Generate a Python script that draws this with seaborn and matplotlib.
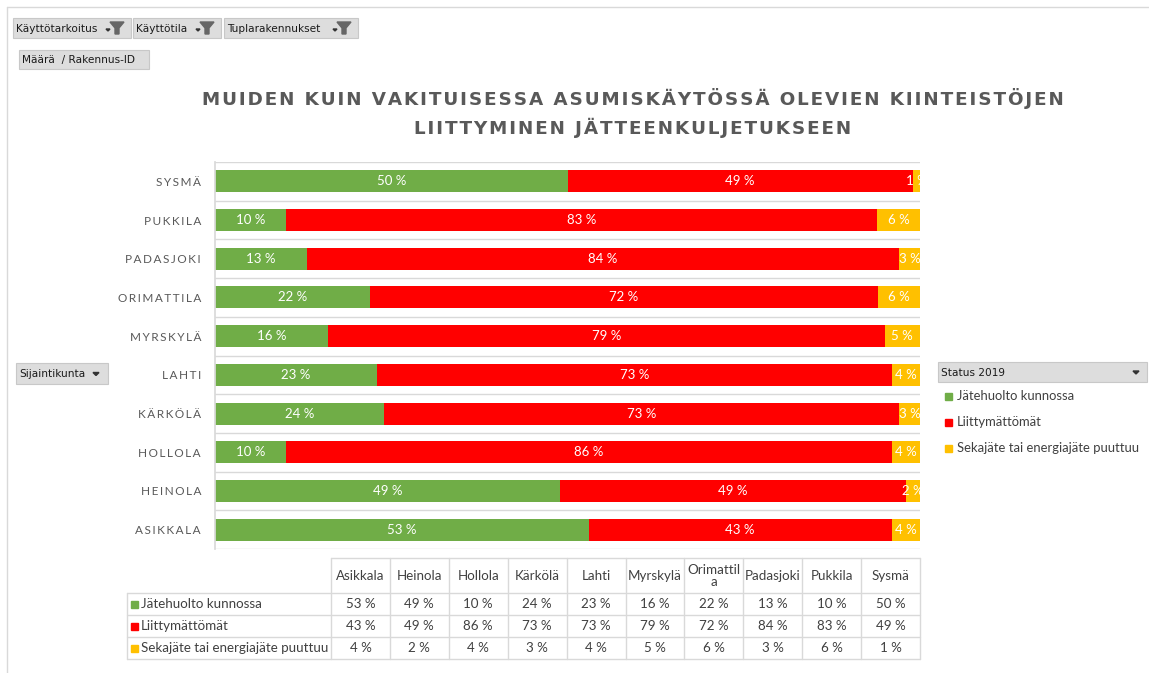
import matplotlib
matplotlib.use("Agg")
import matplotlib.pyplot as plt
import seaborn as sns
import pandas as pd
import numpy as np
from matplotlib.patches import Rectangle, Polygon

# data (order as in the chart, top to bottom)
kunnat = ["Sysmä", "Pukkila", "Padasjoki", "Orimattila", "Myrskylä",
          "Lahti", "Kärkölä", "Hollola", "Heinola", "Asikkala"]
jatehuolto = [50, 10, 13, 22, 16, 23, 24, 10, 49, 53]
liittymattomat = [49, 83, 84, 72, 79, 73, 73, 86, 49, 43]
sekajate = [1, 6, 3, 6, 5, 4, 3, 4, 2, 4]
sarjat = ["Jätehuolto kunnossa", "Liittymättömät", "Sekajäte tai energiajäte puuttuu"]
varit = ["#70AD47", "#FF0000", "#FFC000"]
title_rows = ["MUIDEN KUIN VAKITUISESSA ASUMISKÄYTÖSSÄ OLEVIEN KIINTEISTÖJEN",
              "LIITTYMINEN JÄTTEENKULJETUKSEEN"]

df = pd.DataFrame({"kunta": kunnat, "g": jatehuolto, "r": liittymattomat, "y": sekajate})
tot = df[["g", "r", "y"]].sum(axis=1)
df["gp"] = df["g"] / tot * 100
df["rp"] = df["r"] / tot * 100
df["yp"] = df["y"] / tot * 100
df["c1"] = df["gp"]
df["c2"] = df["gp"] + df["rp"]
df["c3"] = df["c2"] + df["yp"]

sns.set_theme(style="white")
plt.rcParams["font.family"] = ["Lato", "DejaVu Sans"]

W, H = 1149, 673
fig = plt.figure(figsize=(W / 100, H / 100), dpi=100)

# overlay for decorations in pixel coords
ov = fig.add_axes([0, 0, 1, 1], zorder=0)
ov.set_xlim(0, W)
ov.set_ylim(H, 0)
ov.axis("off")

ax = fig.add_axes([215 / W, 1 - 549 / H, 705 / W, 387 / H], zorder=2)
ax.patch.set_alpha(0)
for col, c in [("c3", varit[2]), ("c2", varit[1]), ("c1", varit[0])]:
    sns.barplot(data=df, x=col, y="kunta", order=kunnat, color=c, width=0.57,
                saturation=1, orient="h", ax=ax, linewidth=0)
ax.set_xlim(0, 100)
ax.set_ylim(len(kunnat) - 0.5, -0.5)
for i in range(len(kunnat) + 1):
    ax.axhline(i - 0.5, color="#D9D9D9", lw=1, zorder=0)
for s in ["top", "right", "bottom"]:
    ax.spines[s].set_visible(False)
ax.spines["left"].set_color("#D9D9D9")
ax.set_xticks([])
ax.set_xlabel("")
ax.set_ylabel("")
ax.set_yticks(range(len(kunnat)))
ax.set_yticklabels(["\u2009".join(k.upper()) for k in kunnat], color="#595959", fontsize=8.5)
ax.tick_params(axis="y", length=0, pad=10)

for i, row in df.iterrows():
    for start, w, v in [(0, row.gp, row.g), (row.c1, row.rp, row.r), (row.c2, row.yp, row.y)]:
        ax.text(start + w / 2, i, f"{v} %", ha="center", va="center", color="white",
                fontsize=9.5, clip_on=True)

spaced = "\n".join("\u200a".join(r) for r in title_rows)
fig.text(633 / W, 1 - 113 / H, spaced, ha="center", va="center", fontsize=13.2,
         fontweight="bold", color="#595959", linespacing=1.6,
         family=["DejaVu Sans"])

# frame
ov.plot([7, W], [7, 7], color="#D9D9D9", lw=1)
ov.plot([7, 7], [7, H], color="#D9D9D9", lw=1)


def button(x0, y0, x1, y1, label, funnel=False, arrow_x=None):
    ov.add_patch(Rectangle((x0, y0), x1 - x0, y1 - y0, facecolor="#DDDDDD",
                           edgecolor="#C8C8C8", lw=0.8))
    ov.text(x0 + 3, (y0 + y1) / 2 + 0.5, label, ha="left", va="center", fontsize=7.6,
            color="#1A1A1A", family=["DejaVu Sans"])
    if arrow_x is not None:
        ym = (y0 + y1) / 2
        ov.add_patch(Polygon([[arrow_x - 3, ym - 1], [arrow_x + 3, ym - 1], [arrow_x, ym + 2]],
                             closed=True, color="#333333"))
    if funnel:
        fx = x1 - 14
        ov.add_patch(Polygon([[fx - 7, y0 + 4], [fx + 7, y0 + 4], [fx + 2, y0 + 10],
                              [fx + 2, y1 - 4], [fx - 2, y1 - 4], [fx - 2, y0 + 10]],
                             closed=True, color="#666666"))
        ov.add_patch(Polygon([[fx - 11, y0 + 11], [fx - 7, y0 + 11], [fx - 9, y0 + 13]],
                             closed=True, color="#333333"))


button(13, 18, 131, 38, "Käyttötarkoitus", funnel=True)
button(133, 18, 221, 38, "Käyttötila", funnel=True)
button(224, 18, 358, 38, "Tuplarakennukset", funnel=True)
button(19, 50, 149, 69, "Määrä  / Rakennus-ID")
button(16, 363, 108, 384, "Sijaintikunta", arrow_x=96)
button(938, 362, 1147, 382, "Status 2019", arrow_x=1136)

# right legend
for j, (s, c) in enumerate(zip(sarjat, varit)):
    yy = 396 + j * 26
    ov.add_patch(Rectangle((945, yy - 3.5), 7, 7, color=c))
    ov.text(957, yy, s, ha="left", va="center", fontsize=9.4, color="#404040")

# data table
tbl_order = sorted(range(len(kunnat)), key=lambda k: kunnat[k])
cols = [kunnat[k] for k in tbl_order]
vals = [jatehuolto, liittymattomat, sekajate]
x_left, x_col0, x_right = 127, 331, 920
cw = (x_right - x_col0) / len(cols)
y_rows = [558, 593, 615, 637, 659]
lc = "#D9D9D9"
ov.plot([x_col0, x_right], [y_rows[0], y_rows[0]], color=lc, lw=1)
for yy in y_rows[1:]:
    ov.plot([x_left, x_right], [yy, yy], color=lc, lw=1)
ov.plot([x_left, x_left], [y_rows[1], y_rows[-1]], color=lc, lw=1)
for k in range(len(cols) + 1):
    xx = x_col0 + k * cw
    ov.plot([xx, xx], [y_rows[0], y_rows[-1]], color=lc, lw=1)
for k, name in enumerate(cols):
    lab = "Orimattil\na" if name == "Orimattila" else name
    ov.text(x_col0 + (k + 0.5) * cw, (y_rows[0] + y_rows[1]) / 2, lab, ha="center",
            va="center", fontsize=9.6, color="#404040", linespacing=1.0)
for r in range(3):
    yc = (y_rows[r + 1] + y_rows[r + 2]) / 2
    ov.add_patch(Rectangle((131, yc - 3.5), 7, 7, color=varit[r]))
    ov.text(141, yc, sarjat[r], ha="left", va="center", fontsize=9.6, color="#404040")
    for k, idx in enumerate(tbl_order):
        ov.text(x_col0 + (k + 0.5) * cw, yc, f"{vals[r][idx]} %", ha="center",
                va="center", fontsize=9.6, color="#404040")

fig.savefig("out.png", dpi=100)
